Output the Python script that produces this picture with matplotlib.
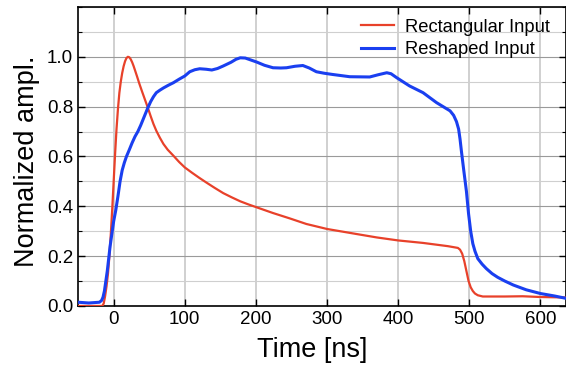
import matplotlib
matplotlib.use("Agg")
import matplotlib.pyplot as plt
from matplotlib.ticker import MultipleLocator

plt.rcParams['font.family'] = ['Liberation Sans', 'DejaVu Sans']

# Rectangular input (red)
rect_t = [-50, -16, -14, -12, -10, -8, -6, -4, -2, 0, 2, 4, 6, 8, 10, 12, 14, 16, 18, 20,
          22, 24, 26, 28, 30, 33, 36, 40, 44, 48, 52, 56, 60, 65, 70, 76, 84, 92, 100,
          110, 120, 130, 142, 154, 166, 178, 190, 201, 224, 247, 271, 300, 341, 370,
          400, 435, 470, 484, 487, 490, 493, 496, 499, 502, 505, 508, 512, 519, 550,
          575, 600, 637]
rect_v = [0.0, 0.0, 0.01, 0.04, 0.08, 0.13, 0.20, 0.29, 0.39, 0.50, 0.61, 0.71, 0.79,
          0.855, 0.90, 0.935, 0.962, 0.982, 0.995, 1.0, 0.998, 0.99, 0.978, 0.963, 0.946,
          0.92, 0.893, 0.86, 0.828, 0.796, 0.762, 0.73, 0.703, 0.675, 0.65, 0.627, 0.603,
          0.578, 0.556, 0.535, 0.515, 0.496, 0.474, 0.453, 0.436, 0.42, 0.407, 0.396,
          0.373, 0.352, 0.329, 0.309, 0.289, 0.275, 0.263, 0.253, 0.24, 0.233, 0.226,
          0.21, 0.18, 0.14, 0.10, 0.075, 0.06, 0.05, 0.043, 0.038, 0.038, 0.039, 0.036,
          0.034]

# Reshaped input (blue)
resh_t = [-50, -35, -20, -17, -15, -13, -11, -9, -7, -5, -3, 0, 3, 6, 9, 12, 15, 18, 22,
          26, 30, 34, 38, 43, 48, 52, 56, 60, 65, 70, 77, 84, 92, 100, 107, 114, 121, 130,
          138, 146, 154, 165, 172, 178, 185, 195, 201, 212, 224, 235, 243, 255, 266, 275,
          285, 296, 308, 332, 360, 372, 384, 390, 398, 416, 435, 454, 473, 478, 482, 485,
          487, 489, 492, 496, 499, 502, 505, 508, 512, 518, 524, 532, 540, 550, 562, 580,
          600, 620, 637]
resh_v = [0.015, 0.012, 0.015, 0.022, 0.035, 0.06, 0.10, 0.14, 0.19, 0.24, 0.28, 0.34,
          0.385, 0.44, 0.50, 0.545, 0.575, 0.60, 0.627, 0.655, 0.68, 0.70, 0.725, 0.76,
          0.795, 0.82, 0.84, 0.856, 0.866, 0.875, 0.886, 0.896, 0.91, 0.923, 0.94, 0.948,
          0.952, 0.95, 0.947, 0.953, 0.963, 0.978, 0.99, 0.996, 0.995, 0.985, 0.979,
          0.966, 0.956, 0.955, 0.956, 0.962, 0.965, 0.955, 0.94, 0.934, 0.929, 0.92, 0.919,
          0.928, 0.936, 0.932, 0.916, 0.883, 0.856, 0.816, 0.783, 0.765, 0.74, 0.71, 0.67,
          0.62, 0.55, 0.46, 0.37, 0.30, 0.25, 0.22, 0.19, 0.168, 0.15, 0.13, 0.115, 0.10,
          0.084, 0.065, 0.05, 0.04, 0.03]

fig = plt.figure(figsize=(5.66, 3.66), dpi=100)
ax = fig.add_axes([0.138, 0.164, 0.862, 0.817])

ax.plot(rect_t, rect_v, color='#e8412a', lw=1.6, label='Rectangular Input', zorder=3)
ax.plot(resh_t, resh_v, color='#1a3ff0', lw=2.2, label='Reshaped Input', zorder=4)

ax.set_xlim(-50, 636)
ax.set_ylim(0, 1.2)
ax.xaxis.set_major_locator(MultipleLocator(100))
ax.yaxis.set_minor_locator(MultipleLocator(0.1))
ax.set_yticks([0, 0.2, 0.4, 0.6, 0.8, 1.0])
ax.set_yticklabels(['0.0', '0.2', '0.4', '0.6', '0.8', '1.0'])

ax.grid(True, which='major', axis='y', color='#9a9a9a', lw=0.8)
ax.grid(True, which='minor', axis='y', color='#cfcfcf', lw=0.8)
ax.grid(True, which='major', axis='x', color='#c8c8c8', lw=1.2)
ax.set_axisbelow(True)

ax.tick_params(which='both', direction='in', top=True, right=True, labelsize=13.5)
ax.tick_params(which='major', length=5, width=1)
ax.tick_params(which='minor', length=3, width=0.8)
ax.tick_params(axis='x', which='minor', top=False, bottom=False)
for s in ax.spines.values():
    s.set_linewidth(1.2)

ax.set_xlabel('Time [ns]', fontsize=19.5, va='top')
ax.set_ylabel('Normalized ampl.', fontsize=19.5)
ax.xaxis.set_label_coords(0.48, -0.105)
ax.yaxis.set_label_coords(-0.078, 0.483)

fig.legend(loc='upper right', bbox_to_anchor=(0.984, 0.969), frameon=False, fontsize=13.2,
           handlelength=1.8, handletextpad=0.6, labelspacing=0.3, borderaxespad=0.0)

fig.savefig('out.png', dpi=100, facecolor='white')
